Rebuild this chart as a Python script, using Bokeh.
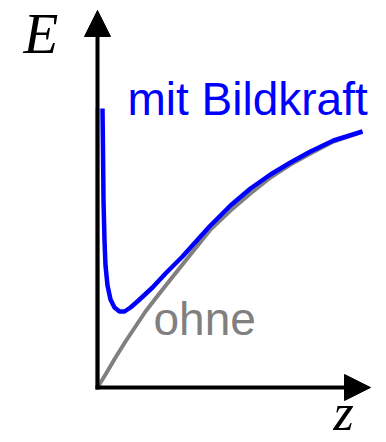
from bokeh.plotting import figure
from bokeh.models import Range1d, Arrow, NormalHead
from bokeh.core.properties import value
from bokeh.embed import file_html
from bokeh.resources import INLINE

# --- data (arbitrary units) ---
z_ohne = [0, 0.8, 1.8, 2.8, 3.8, 4.8, 5.8, 7.3, 9.3, 11.3, 13.3, 15.3, 17.3, 19.3, 21.3, 23.6, 26.5]
E_ohne = [0, 1.3, 3.0, 4.6, 6.1, 7.6, 8.9, 10.8, 13.3, 15.8, 17.7, 19.4, 21.0, 22.3, 23.4, 24.6, 25.6]
z_wall = [0, 0]
E_wall = [0, 27.9]
z_mit = [0.5, 0.55, 0.6, 0.7, 0.8, 1.0, 1.3, 1.7, 2.2, 2.7, 3.3, 4.1, 5.5, 6.8, 8.5, 10.3, 11.3, 13.3, 15.3, 17.3, 19.3, 21.3, 23.6, 26.5]
E_mit = [27.9, 23.7, 18.7, 14.7, 12.2, 10.2, 8.8, 8.0, 7.6, 7.6, 8.0, 8.7, 10.0, 11.4, 13.1, 15.1, 16.2, 18.2, 19.9, 21.3, 22.5, 23.6, 24.7, 25.6]
z_axis_end = 27.3
E_axis_end = 37.7
label_mit = "mit Bildkraft"
label_ohne = "ohne"
label_E = "E"
label_z = "z"

p = figure(width=386, height=442, output_backend="svg", toolbar_location=None,
           x_range=Range1d(-9.7, 28.9), y_range=Range1d(-5.5, 38.7),
           min_border=0, outline_line_color=None)
p.xaxis.visible = False
p.yaxis.visible = False
p.grid.visible = False
p.background_fill_color = "white"
p.border_fill_color = "white"

# axes with arrow heads
p.add_layout(Arrow(end=NormalHead(size=26, fill_color="black", line_color="black", line_width=1),
                   x_start=0, y_start=-0.2, x_end=0, y_end=E_axis_end,
                   line_color="black", line_width=4))
p.add_layout(Arrow(end=NormalHead(size=26, fill_color="black", line_color="black", line_width=1),
                   x_start=-0.2, y_start=0, x_end=z_axis_end, y_end=0,
                   line_color="black", line_width=4))

# curves
p.line(z_wall, E_wall, line_color="#808080", line_width=4)
p.line(z_ohne, E_ohne, line_color="#808080", line_width=4, line_join="round")
p.line(z_mit, E_mit, line_color="#0000FF", line_width=4.5, line_join="round")

# labels
p.text(x=[3.0], y=[28.9], text=[label_mit], text_color="#0000FF",
       text_font=value("Liberation Sans"), text_font_size="46px",
       text_baseline="alphabetic", text_align="left")
p.text(x=[5.6], y=[6.9], text=[label_ohne], text_color="#808080",
       text_font=value("Liberation Sans"), text_font_size="46px",
       text_baseline="alphabetic", text_align="left")
p.text(x=[-7.4], y=[35.4], text=[label_E], text_color="black",
       text_font=value("Liberation Serif"), text_font_style="italic", text_font_size="57px",
       text_baseline="alphabetic", text_align="left")
p.text(x=[23.6], y=[-2.5], text=[label_z], text_color="black",
       text_font=value("Liberation Serif"), text_font_style="italic", text_font_size="52px",
       text_baseline="alphabetic", text_align="left")

open("out.html", "w").write(file_html(p, INLINE))
